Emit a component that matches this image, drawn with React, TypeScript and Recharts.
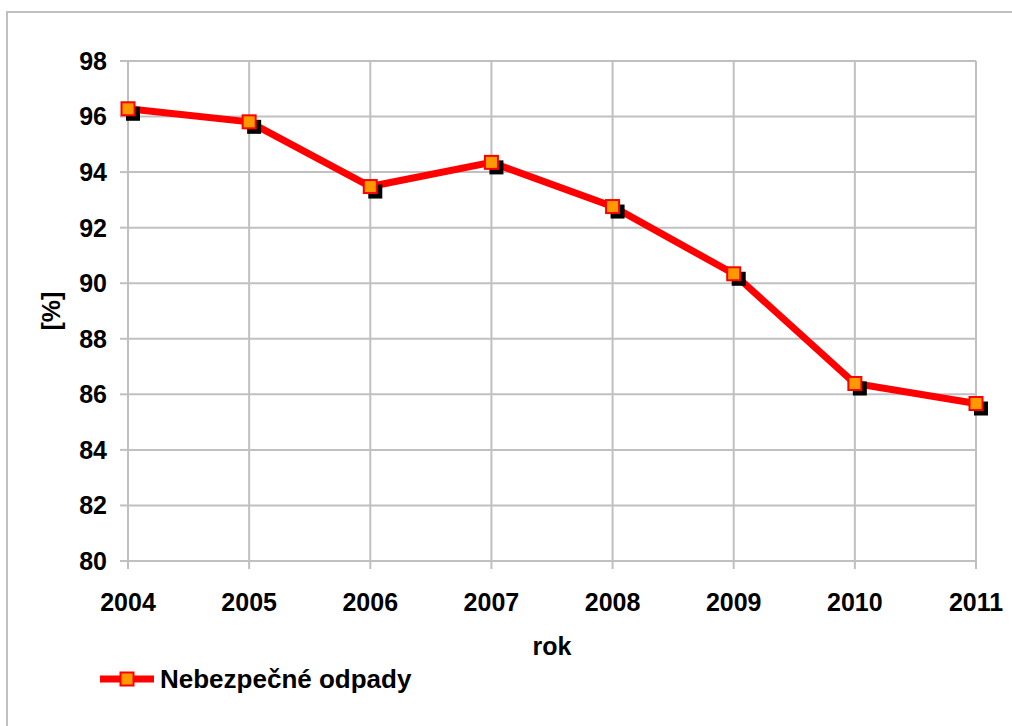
import React from "react";
import { LineChart, Line, XAxis, YAxis, CartesianGrid, Legend } from "recharts";

const years = ["2004", "2005", "2006", "2007", "2008", "2009", "2010", "2011"];
const hazardousWaste = [96.28, 95.81, 93.48, 94.35, 92.76, 90.34, 86.39, 85.67];
const yTicks = [80, 82, 84, 86, 88, 90, 92, 94, 96, 98];
const seriesName = "Nebezpečné odpady";

const data = years.map((year, i) => ({ year, value: hazardousWaste[i] }));

const FONT = "'Liberation Sans', Arial, sans-serif";
const GRID = "#c0c0c0";
const tickStyle = { fill: "#000", fontSize: 25, fontWeight: "bold", fontFamily: FONT };

// black drop shadow under each marker
const ShadowDot = (props: any) => {
  const { cx, cy, index } = props;
  if (cx == null || cy == null) return null;
  return <rect key={`s-${index}`} x={cx - 2} y={cy - 2} width={14} height={14} fill="#000" />;
};

const SquareDot = (props: any) => {
  const { cx, cy, index } = props;
  if (cx == null || cy == null) return null;
  return (
    <rect
      key={`d-${index}`}
      x={cx - 6.5}
      y={cy - 6.5}
      width={13}
      height={13}
      fill="#FF9900"
      stroke="#FF0000"
      strokeWidth={2}
    />
  );
};

const LegendContent = () => (
  <div style={{ display: "flex", alignItems: "center", height: 30 }}>
    <svg width={54} height={30}>
      <line x1={0} y1={15} x2={54} y2={15} stroke="#FF0000" strokeWidth={7} />
      <rect x={20.5} y={8.5} width={13} height={13} fill="#FF9900" stroke="#FF0000" strokeWidth={2} />
    </svg>
    <span
      style={{
        marginLeft: 6,
        fontFamily: FONT,
        fontWeight: "bold",
        fontSize: 26,
        color: "#000",
        lineHeight: "30px",
      }}
    >
      {seriesName}
    </span>
  </div>
);

export default function App() {
  return (
    <div
      style={{
        position: "absolute",
        left: 0,
        top: 0,
        width: 1012,
        height: 726,
        overflow: "hidden",
        background: "#fff",
      }}
    >
      <div
        style={{
          position: "absolute",
          left: 6,
          top: 11,
          width: 1100,
          height: 800,
          border: `2px solid ${GRID}`,
        }}
      />
      <div style={{ position: "absolute", left: 0, top: 0 }}>
        <LineChart
          width={1012}
          height={726}
          data={data}
          margin={{ top: 61, right: 36, left: 40, bottom: 45 }}
        >
          <CartesianGrid stroke={GRID} strokeWidth={2} />
          <XAxis
            dataKey="year"
            height={120}
            tick={tickStyle}
            tickSize={8}
            tickMargin={24}
            axisLine={{ stroke: GRID, strokeWidth: 2 }}
            tickLine={{ stroke: GRID, strokeWidth: 2 }}
            interval={0}
            label={{
              value: "rok",
              position: "insideTop",
              offset: 76,
              style: { fill: "#000", fontSize: 25, fontWeight: "bold", fontFamily: FONT },
            }}
          />
          <YAxis
            width={88}
            domain={[80, 98]}
            ticks={yTicks}
            interval={0}
            tick={tickStyle}
            tickSize={8}
            tickMargin={13}
            axisLine={{ stroke: GRID, strokeWidth: 2 }}
            tickLine={{ stroke: GRID, strokeWidth: 2 }}
            label={{
              value: "[%]",
              angle: -90,
              position: "insideLeft",
              offset: 11,
              style: {
                fill: "#000",
                fontSize: 25,
                fontWeight: "bold",
                fontFamily: FONT,
                textAnchor: "middle",
              },
            }}
          />
          <Legend
            layout="horizontal"
            verticalAlign="middle"
            align="center"
            content={<LegendContent />}
            wrapperStyle={{ left: 100, top: 664, width: "auto", height: 30 }}
          />
          <Line
            dataKey="value"
            stroke="none"
            dot={<ShadowDot />}
            activeDot={false}
            legendType="none"
            isAnimationActive={false}
          />
          <Line
            dataKey="value"
            name={seriesName}
            type="linear"
            stroke="#FF0000"
            strokeWidth={7}
            dot={<SquareDot />}
            activeDot={false}
            isAnimationActive={false}
          />
        </LineChart>
      </div>
    </div>
  );
}
